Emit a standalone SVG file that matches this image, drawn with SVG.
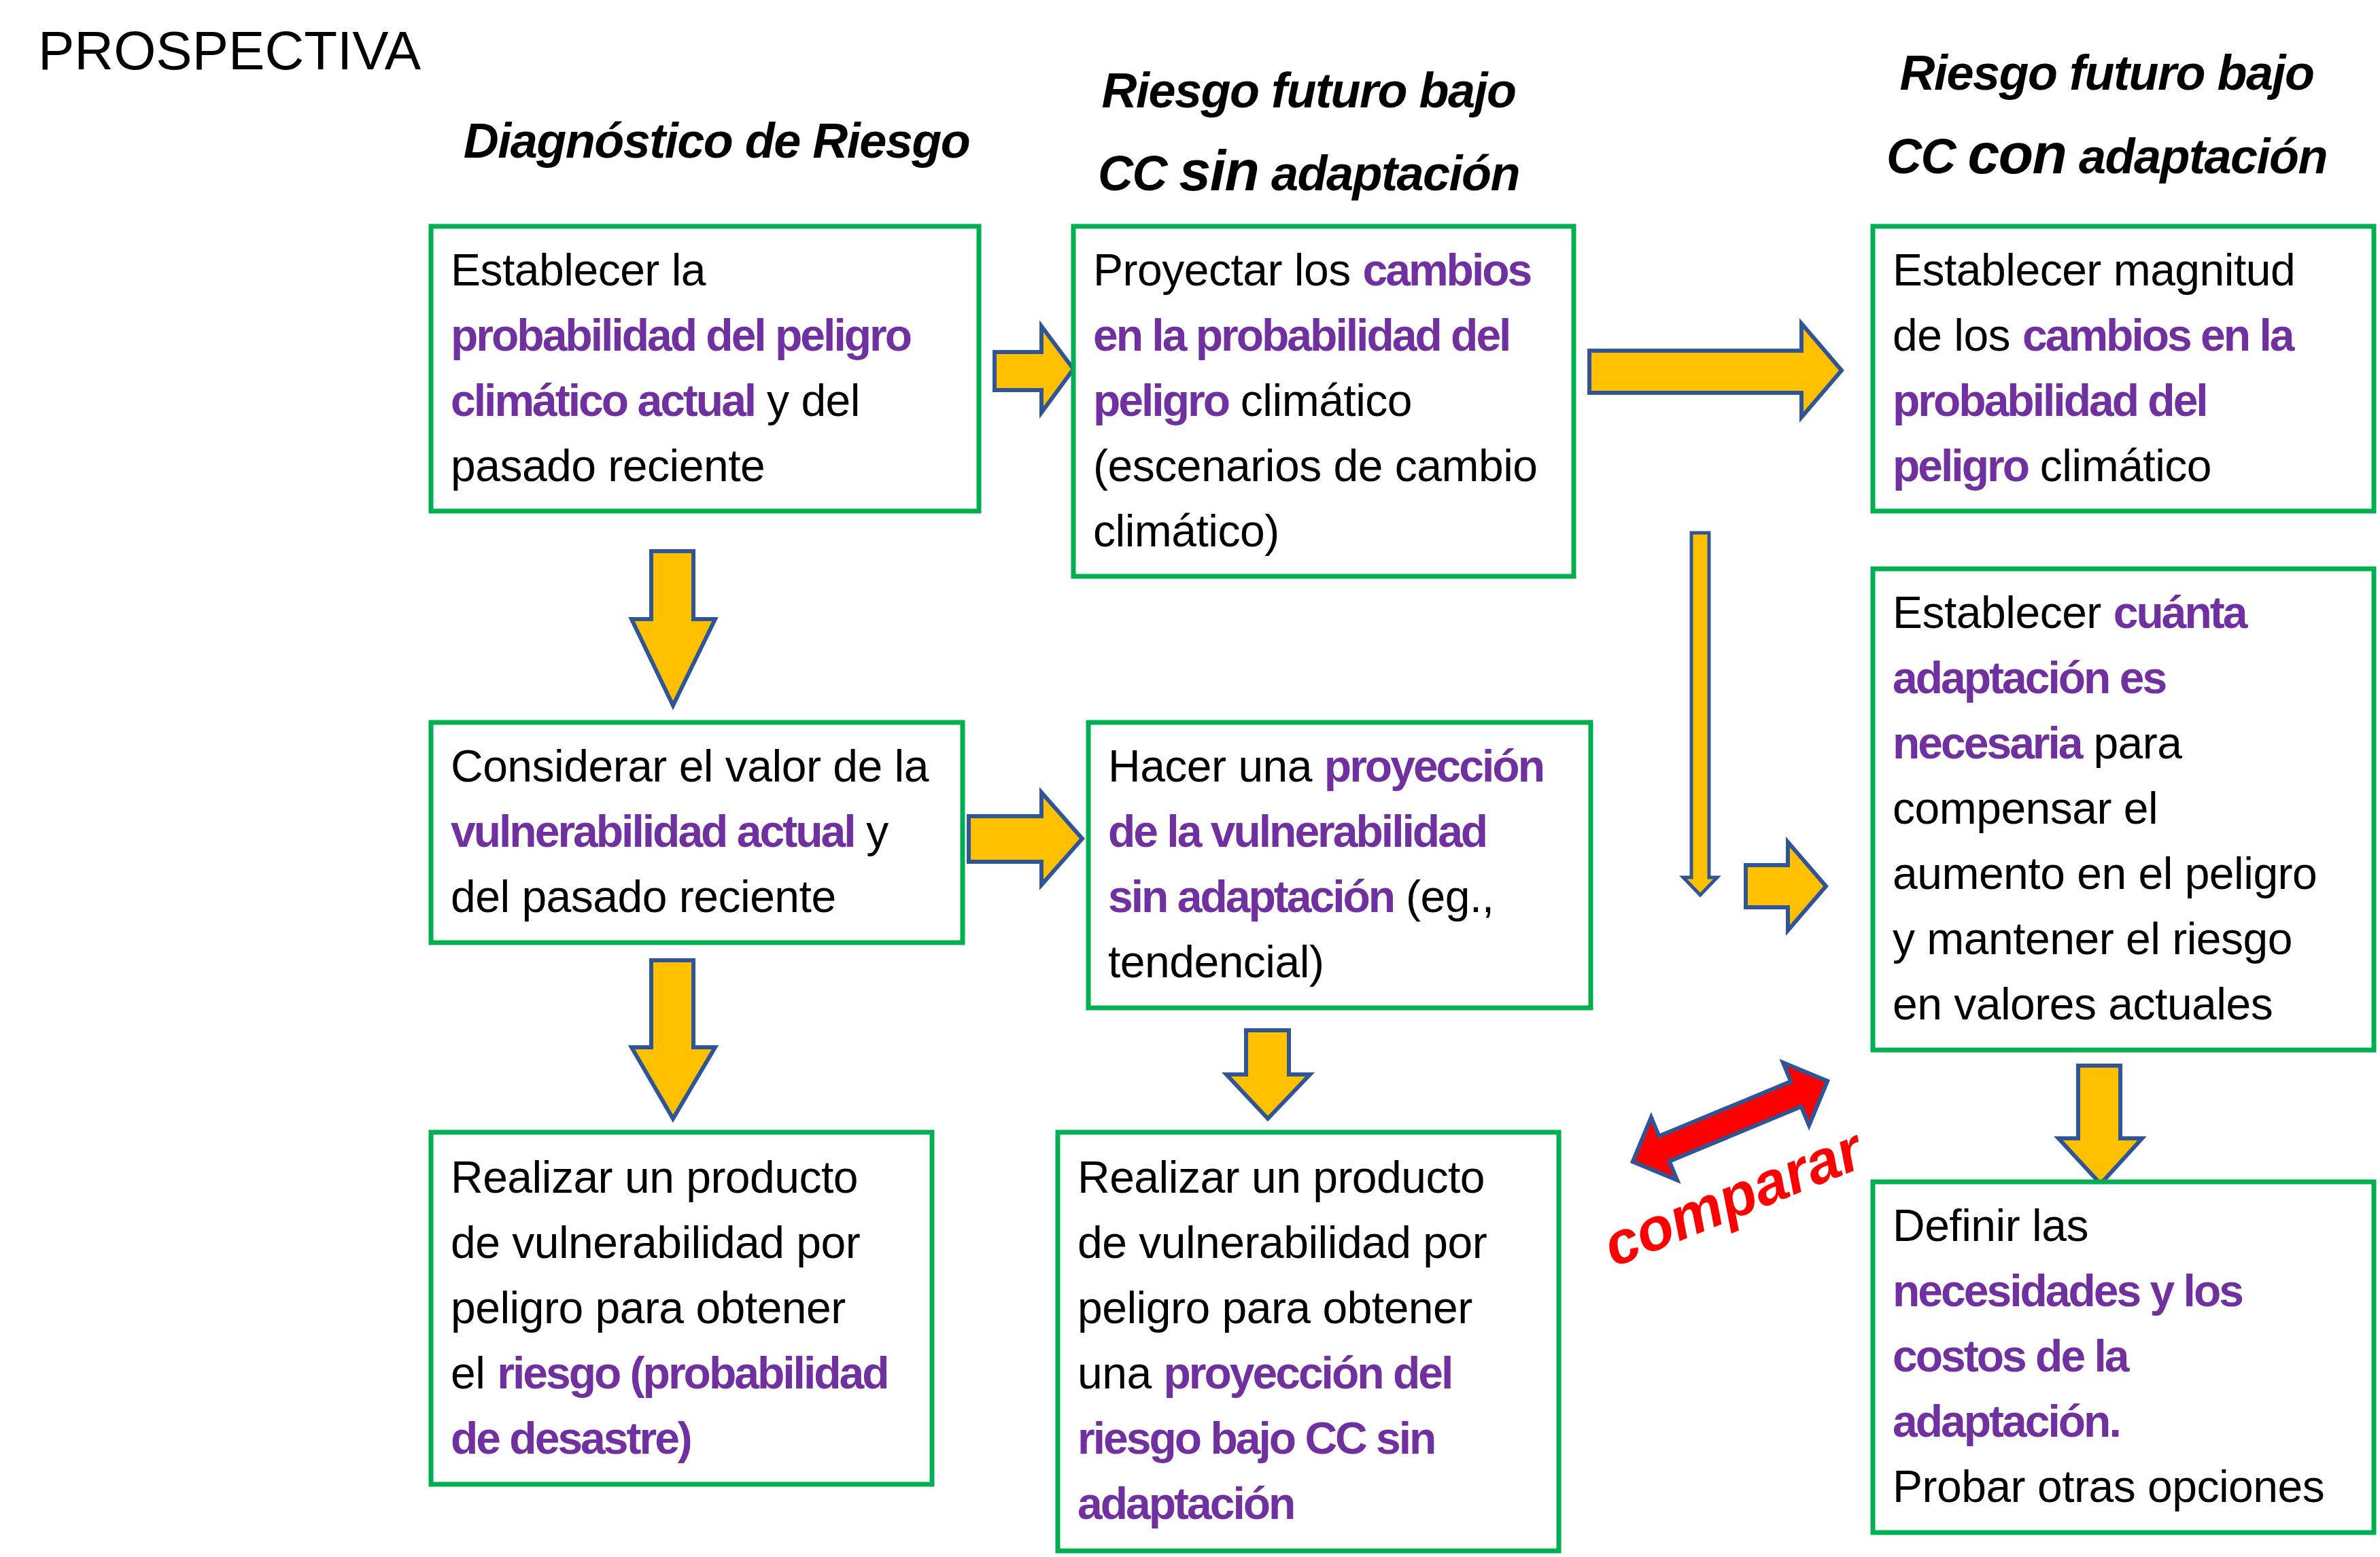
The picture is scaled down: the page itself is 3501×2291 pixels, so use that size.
<svg xmlns="http://www.w3.org/2000/svg" width="3501" height="2291" viewBox="0 0 3501 2291">
<defs>
<style>
.bx{fill:#fff;stroke:#00B050;stroke-width:7}
.t{font-family:"Liberation Sans",Arial,sans-serif;font-size:66px;fill:#000;letter-spacing:-0.5px}
.p{fill:#7030A0;font-weight:bold;letter-spacing:-3px}
.h{font-family:"Liberation Sans",sans-serif;font-size:72px;font-weight:bold;font-style:italic;fill:#000;text-anchor:middle;letter-spacing:-1.5px}
.ar{fill:#FFC000;stroke:#2F5597;stroke-width:6;stroke-linejoin:miter}
</style>
</defs>
<rect width="3501" height="2291" fill="#fff"/>
<text x="56" y="102" font-family="Liberation Sans,Arial,sans-serif" font-size="80">PROSPECTIVA</text>
<text class="h" x="1054" y="232">Diagnóstico de Riesgo</text>
<text class="h" x="1925" y="158">Riesgo futuro bajo</text>
<text class="h" x="1925" y="280">CC <tspan font-size="84">sin</tspan> adaptación</text>
<text class="h" x="3099" y="132">Riesgo futuro bajo</text>
<text class="h" x="3099" y="255">CC <tspan font-size="84">con</tspan> adaptación</text>
<g id="connectors">
<polygon class="ar" points="1463,518 1532,518 1532,480 1579,543 1532,607 1532,574 1463,574"/>
<polygon class="ar" points="2338,516 2650,516 2650,476 2709,545 2650,614 2650,578 2338,578"/>
<polygon class="ar" points="958,811 1020,811 1020,911 1052,911 990,1038 929,911 958,911"/>
<polygon class="ar" points="1425,1201 1532,1201 1532,1166 1592,1234 1532,1302 1532,1268 1425,1268"/>
<polygon class="ar" points="2488,784 2514,784 2514,1291 2526,1291 2501,1317 2476,1291 2488,1291" style="stroke-width:5"/>
<polygon class="ar" points="2568,1273 2630,1273 2630,1239 2686,1304 2630,1369 2630,1335 2568,1335"/>
<polygon class="ar" points="958,1413 1020,1413 1020,1541 1052,1541 990,1646 929,1541 958,1541"/>
<polygon class="ar" points="1833,1516 1896,1516 1896,1581 1927,1581 1865,1646 1804,1581 1833,1581"/>
<polygon class="ar" points="3057,1568 3119,1568 3119,1675 3151,1675 3090,1742 3028,1675 3057,1675"/>
<polygon transform="translate(2545,1650) rotate(-22.5)" points="-155,0 -105,-50 -105,-20 105,-20 105,-50 155,0 105,50 105,20 -105,20 -105,50" fill="#FF0000" stroke="#2F5597" stroke-width="6"/>
</g>
<text transform="translate(2560,1790) rotate(-22)" text-anchor="middle" font-family="Liberation Sans,Arial,sans-serif" font-size="88" font-weight="bold" font-style="italic" fill="#FF0000">comparar</text>
<g id="n1"><rect class="bx" x="634" y="333" width="806" height="419"/>
<text class="t" x="663" y="420">Establecer la</text>
<text class="t" x="663" y="516"><tspan class="p">probabilidad del peligro</tspan></text>
<text class="t" x="663" y="612"><tspan class="p">climático actual</tspan> y del</text>
<text class="t" x="663" y="708">pasado reciente</text></g>
<g id="n2"><rect class="bx" x="1579" y="333" width="736" height="515"/>
<text class="t" x="1608" y="420">Proyectar los <tspan class="p">cambios</tspan></text>
<text class="t" x="1608" y="516"><tspan class="p">en la probabilidad del</tspan></text>
<text class="t" x="1608" y="612"><tspan class="p">peligro</tspan> climático</text>
<text class="t" x="1608" y="708">(escenarios de cambio</text>
<text class="t" x="1608" y="804">climático)</text></g>
<g id="n3"><rect class="bx" x="2755" y="333" width="737" height="419"/>
<text class="t" x="2784" y="420">Establecer magnitud</text>
<text class="t" x="2784" y="516">de los <tspan class="p">cambios en la</tspan></text>
<text class="t" x="2784" y="612"><tspan class="p">probabilidad del</tspan></text>
<text class="t" x="2784" y="708"><tspan class="p">peligro</tspan> climático</text></g>
<g id="n4"><rect class="bx" x="634" y="1063" width="782" height="324"/>
<text class="t" x="663" y="1150">Considerar el valor de la</text>
<text class="t" x="663" y="1246"><tspan class="p">vulnerabilidad actual</tspan> y</text>
<text class="t" x="663" y="1342">del pasado reciente</text></g>
<g id="n5"><rect class="bx" x="1601" y="1063" width="739" height="420"/>
<text class="t" x="1630" y="1150">Hacer una <tspan class="p">proyección</tspan></text>
<text class="t" x="1630" y="1246"><tspan class="p">de la vulnerabilidad</tspan></text>
<text class="t" x="1630" y="1342"><tspan class="p">sin adaptación</tspan> (eg.,</text>
<text class="t" x="1630" y="1438">tendencial)</text></g>
<g id="n6"><rect class="bx" x="2755" y="837" width="737" height="708"/>
<text class="t" x="2784" y="924">Establecer <tspan class="p">cuánta</tspan></text>
<text class="t" x="2784" y="1020"><tspan class="p">adaptación es</tspan></text>
<text class="t" x="2784" y="1116"><tspan class="p">necesaria</tspan> para</text>
<text class="t" x="2784" y="1212">compensar el</text>
<text class="t" x="2784" y="1308">aumento en el peligro</text>
<text class="t" x="2784" y="1404">y mantener el riesgo</text>
<text class="t" x="2784" y="1500">en valores actuales</text></g>
<g id="n7"><rect class="bx" x="634" y="1666" width="737" height="518"/>
<text class="t" x="663" y="1755">Realizar un producto</text>
<text class="t" x="663" y="1851">de vulnerabilidad por</text>
<text class="t" x="663" y="1947">peligro para obtener</text>
<text class="t" x="663" y="2043">el <tspan class="p">riesgo (probabilidad</tspan></text>
<text class="t" x="663" y="2139"><tspan class="p">de desastre)</tspan></text></g>
<g id="n8"><rect class="bx" x="1556" y="1666" width="737" height="616"/>
<text class="t" x="1585" y="1755">Realizar un producto</text>
<text class="t" x="1585" y="1851">de vulnerabilidad por</text>
<text class="t" x="1585" y="1947">peligro para obtener</text>
<text class="t" x="1585" y="2043">una <tspan class="p">proyección del</tspan></text>
<text class="t" x="1585" y="2139"><tspan class="p">riesgo bajo CC sin</tspan></text>
<text class="t" x="1585" y="2235"><tspan class="p">adaptación</tspan></text></g>
<g id="n9"><rect class="bx" x="2755" y="1739" width="737" height="516"/>
<text class="t" x="2784" y="1826">Definir las</text>
<text class="t" x="2784" y="1922"><tspan class="p">necesidades y los</tspan></text>
<text class="t" x="2784" y="2018"><tspan class="p">costos de la</tspan></text>
<text class="t" x="2784" y="2114"><tspan class="p">adaptación.</tspan></text>
<text class="t" x="2784" y="2210">Probar otras opciones</text></g>
</svg>
